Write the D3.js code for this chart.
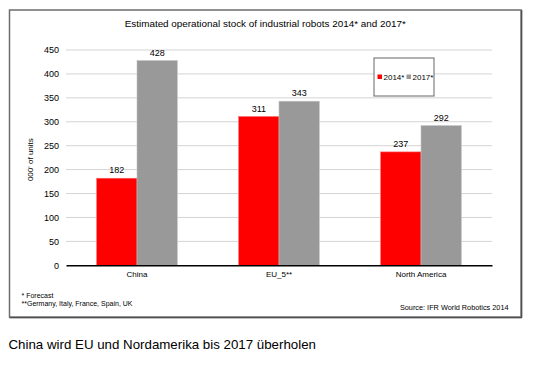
<!DOCTYPE html>
<html>
<head>
<meta charset="utf-8">
<script src="https://cdn.jsdelivr.net/npm/d3@7"></script>
<style>
  html, body { margin: 0; padding: 0; background: #fff; }
  svg { display: block; font-family: "Liberation Sans", Arial, sans-serif; }
</style>
</head>
<body>
<svg id="chart" width="550" height="366"></svg>
<script>
const categories = ["China", "EU_5**", "North America"];
const seriesNames = ["2014*", "2017*"];
const values2014 = [182, 311, 237];
const values2017 = [428, 343, 292];
const yTicks = [0, 50, 100, 150, 200, 250, 300, 350, 400, 450];
const colors = ["#ff0000", "#999999"];

const title = "Estimated operational stock of industrial robots 2014* and 2017*";
const yTitle = "000' of units";
const note1 = "*  Forecast";
const note2 = "**Germany, Italy, France, Spain, UK";
const source = "Source: IFR World Robotics 2014";
const caption = "China wird EU und Nordamerika bis 2017 überholen";

const svg = d3.select("#chart");

// frame
const frame = {x0: 9.5, y0: 10, x1: 521, y1: 317};
svg.append("rect")
  .attr("x", frame.x0).attr("y", frame.y0)
  .attr("width", frame.x1 - frame.x0).attr("height", frame.y1 - frame.y0)
  .attr("fill", "#fff").attr("stroke", "#6e6e6e").attr("stroke-width", 1.5);
svg.append("path")
  .attr("d", `M${frame.x1 + 0.8},${frame.y0} V${frame.y1 + 0.8} H${frame.x0}`)
  .attr("fill", "none").attr("stroke", "#333").attr("stroke-width", 1);

const plot = {left: 66, right: 492, top: 50, bottom: 265.3};

const x0 = d3.scaleBand().domain(categories)
  .range([plot.left, plot.right]).paddingInner(0.432).paddingOuter(0.216);
const x1 = d3.scaleBand().domain(seriesNames).range([0, x0.bandwidth()]).padding(0);
const y = d3.scaleLinear().domain([0, 450]).range([plot.bottom, plot.top]);

// gridlines
svg.append("g").selectAll("line").data(yTicks.filter(d => d > 0)).join("line")
  .attr("x1", plot.left).attr("x2", plot.right)
  .attr("y1", d => y(d)).attr("y2", d => y(d))
  .attr("stroke", "#d4d4d4").attr("stroke-width", 1);

// y axis labels
const yAxis = d3.axisLeft(y).tickValues(yTicks).tickSize(0).tickPadding(7);
const yg = svg.append("g").attr("transform", `translate(${plot.left},0)`).call(yAxis);
yg.select(".domain").remove();
yg.selectAll("text").attr("font-size", 9).attr("fill", "#000")
  .attr("font-family", "Liberation Sans, Arial, sans-serif");

// bars
const data = categories.map((c, i) => ({cat: c, vals: [values2014[i], values2017[i]]}));
const groups = svg.append("g").selectAll("g").data(data).join("g")
  .attr("transform", d => `translate(${x0(d.cat)},0)`);
groups.selectAll("rect").data(d => d.vals.map((v, j) => ({s: seriesNames[j], v, j}))).join("rect")
  .attr("x", d => x1(d.s)).attr("width", x1.bandwidth())
  .attr("y", d => y(d.v)).attr("height", d => y(0) - y(d.v))
  .attr("fill", d => colors[d.j])
  .attr("stroke", d => d.j === 0 ? "#ff6b6b" : "#c4c4c4").attr("stroke-width", 0.6);
groups.selectAll("text").data(d => d.vals.map((v, j) => ({s: seriesNames[j], v, j}))).join("text")
  .attr("x", d => x1(d.s) + x1.bandwidth() / 2).attr("y", d => y(d.v) - 5)
  .attr("text-anchor", "middle").attr("font-size", 9).attr("fill", "#000")
  .text(d => d.v);

// x axis
const xAxis = d3.axisBottom(x0).tickSize(0).tickPadding(6);
const xg = svg.append("g").attr("transform", `translate(0,${plot.bottom})`).call(xAxis);
xg.select(".domain").attr("stroke", "#000").attr("stroke-width", 1.5);
xg.selectAll("text").attr("font-size", 8).attr("fill", "#000")
  .attr("font-family", "Liberation Sans, Arial, sans-serif");

// title
svg.append("text").attr("x", (frame.x0 + frame.x1) / 2).attr("y", 27)
  .attr("text-anchor", "middle").attr("font-size", 9.9).attr("fill", "#000").text(title);

// y title
svg.append("text").attr("transform", `translate(33,${(plot.top + plot.bottom) / 2 + 2}) rotate(-90)`)
  .attr("text-anchor", "middle").attr("font-size", 8).attr("fill", "#000").text(yTitle);

// legend
const lg = svg.append("g");
lg.append("rect").attr("x", 374).attr("y", 58).attr("width", 60).attr("height", 38)
  .attr("fill", "#fff").attr("stroke", "#666").attr("stroke-width", 1);
const legX = [377.5, 406.5];
seriesNames.forEach((s, i) => {
  lg.append("rect").attr("x", legX[i]).attr("y", 74.5).attr("width", 4.5).attr("height", 4.5).attr("fill", colors[i]);
  lg.append("text").attr("x", legX[i] + 6).attr("y", 79.5).attr("font-size", 8).attr("fill", "#000").text(s);
});

// notes
svg.append("text").attr("x", 21.5).attr("y", 297.5).attr("font-size", 7).attr("fill", "#000").text(note1);
svg.append("text").attr("x", 21.5).attr("y", 306).attr("font-size", 7).attr("fill", "#000").text(note2);
svg.append("text").attr("x", 508.5).attr("y", 310).attr("text-anchor", "end")
  .attr("font-size", 7.3).attr("fill", "#000").text(source);

// caption
svg.append("text").attr("x", 8.5).attr("y", 349).attr("font-size", 13.3).attr("fill", "#000").text(caption);
</script>
</body>
</html>
